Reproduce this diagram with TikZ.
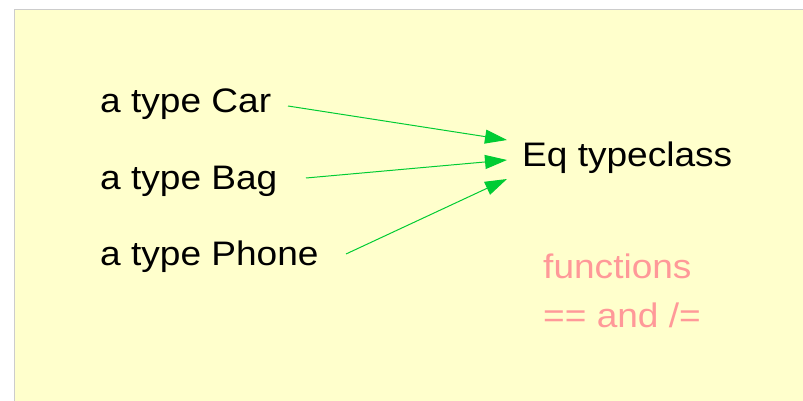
\documentclass[tikz,border=0pt]{standalone}
\usepackage{fontspec}
\setmainfont{Liberation Sans}[FakeStretch=1.09]
\usetikzlibrary{arrows.meta}
\definecolor{bgyellow}{HTML}{FFFFCC}
\definecolor{bordergray}{HTML}{CCCCCC}
\definecolor{pinktext}{HTML}{FF9999}
\definecolor{arrowgreen}{HTML}{00CC33}
\tikzset{
  lbl/.style={anchor=base west, inner sep=0pt, font=\fontsize{34}{40}\selectfont, text=black},
  pinklbl/.style={lbl, text=pinktext},
  arr/.style={draw=arrowgreen, line width=1pt, -{Triangle[length=22pt,width=14pt,fill=arrowgreen]}}
}
\begin{document}
\begin{tikzpicture}[x=1pt,y=-1pt]
\useasboundingbox (0,0) rectangle (803,401);
\fill[bgyellow] (14,10) rectangle (803,401);
\draw[bordergray, line width=1pt] (14,401) -- (14,10) -- (803,10);
\node[lbl] (car) at (100,113) {a type Car};
\node[lbl] (bag) at (100,189) {a type Bag};
\node[lbl] (phone) at (100,265) {a type Phone};
\node[lbl] (eq) at (522,167) {Eq typeclass};
\node[pinklbl] (fn) at (543,278) {functions};
\node[pinklbl] (ops) at (543,327) {== and /=};
\coordinate (carout) at (288,106);
\coordinate (bagout) at (306,178);
\coordinate (phoneout) at (346,254);
\coordinate (eqin1) at (507,140);
\coordinate (eqin2) at (507,160);
\coordinate (eqin3) at (507,179);
\draw[arr] (carout) -- (eqin1);
\draw[arr] (bagout) -- (eqin2);
\draw[arr] (phoneout) -- (eqin3);
\end{tikzpicture}
\end{document}
